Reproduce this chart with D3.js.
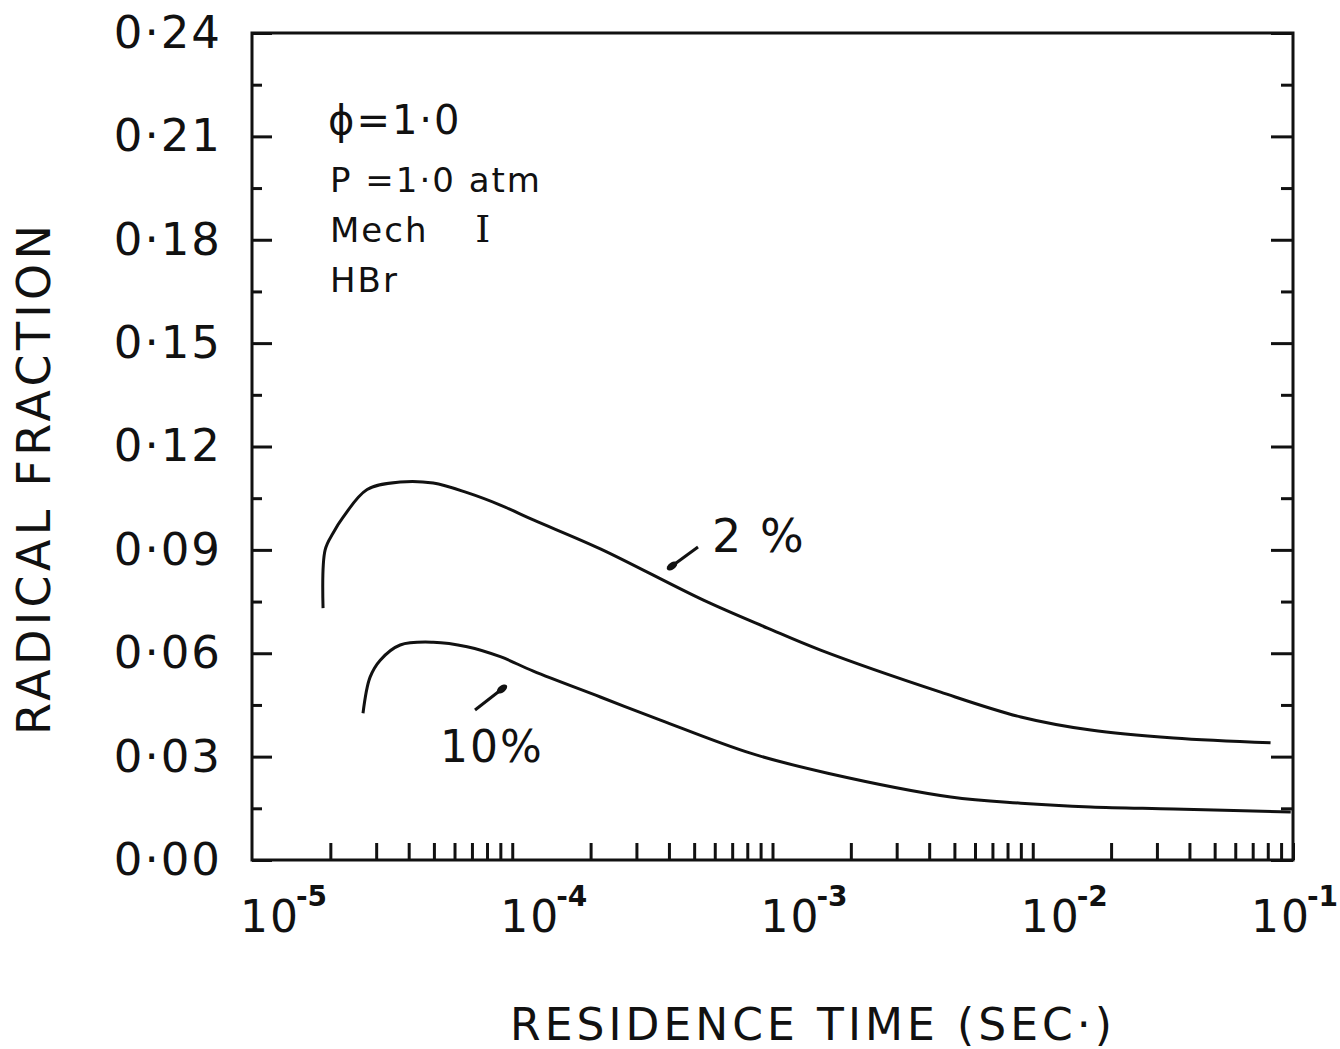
<!DOCTYPE html>
<html>
<head>
<meta charset="utf-8">
<script src="https://cdn.jsdelivr.net/npm/d3@7"></script>
<style>
  body { margin: 0; background: #fff; }
  svg { display: block; }
  text { font-family: "DejaVu Sans", sans-serif; fill: #111; }
</style>
</head>
<body>
<div id="chart"></div>
<script>
// residence time (s) and radical fraction
const time2 = [1.875e-5, 1.91e-5, 2.05e-5, 2.24e-5, 2.77e-5, 3.71e-5, 4.97e-5, 6.71e-5, 9.0e-5, 1.205e-4, 2.18e-4, 5.43e-4, 9.57e-4, 1.53e-3, 4.43e-3, 9.0e-3, 1.67e-2, 3.48e-2, 8.2e-2];
const frac2 = [0.0731, 0.090, 0.0949, 0.0995, 0.1075, 0.1097, 0.1094, 0.1066, 0.1030, 0.0987, 0.0903, 0.0754, 0.0673, 0.0609, 0.0487, 0.0415, 0.0377, 0.0354, 0.034];

const time10 = [2.67e-5, 2.84e-5, 3.11e-5, 3.71e-5, 4.97e-5, 6.71e-5, 9.0e-5, 1.205e-4, 2.18e-4, 3.71e-4, 8.23e-4, 1.63e-3, 4.84e-3, 9.0e-3, 1.67e-2, 3.48e-2, 9.8e-2];
const frac10 = [0.0426, 0.053, 0.058, 0.0624, 0.0632, 0.0619, 0.0590, 0.0548, 0.0473, 0.0406, 0.031, 0.0252, 0.0183, 0.0165, 0.0154, 0.0148, 0.0139];

const yMajor = [0, 0.03, 0.06, 0.09, 0.12, 0.15, 0.18, 0.21, 0.24];
const yMinor = [0.015, 0.045, 0.075, 0.105, 0.135, 0.165, 0.195, 0.225];
const xDecades = [-5, -4, -3, -2, -1];
const notes = ["P =1·0 atm", "Mech ", "HBr"];

const width = 1340, height = 1049;
const margin = { top: 33, right: 47, bottom: 189, left: 252 };

const svg = d3.select("#chart").append("svg")
  .attr("width", width)
  .attr("height", height);

const x = d3.scaleLog()
  .domain([1e-5, 1e-1])
  .range([margin.left, width - margin.right]);

const y = d3.scaleLinear()
  .domain([0, 0.24])
  .range([height - margin.bottom, margin.top]);

// minor ticks on x: 2..10 in every decade
const xTicks = [];
xDecades.slice(0, -1).forEach(e => {
  for (let k = 2; k <= 10; k++) xTicks.push(k * Math.pow(10, e));
});

// left axis
svg.append("g")
  .attr("transform", `translate(${margin.left},0)`)
  .call(d3.axisLeft(y).tickValues(yMajor).tickSize(-20).tickPadding(30)
    .tickFormat(d => d3.format(".2f")(d).replace(".", "·")))
  .call(g => g.select(".domain").remove())
  .call(g => g.selectAll("line").attr("stroke", "#111").attr("stroke-width", 3))
  .call(g => g.selectAll("text")
    .style("font-size", "45px")
    .attr("letter-spacing", 2)
    .attr("fill", "#111"));

svg.append("g")
  .attr("transform", `translate(${margin.left},0)`)
  .call(d3.axisLeft(y).tickValues(yMinor).tickSize(-10).tickFormat(""))
  .call(g => g.select(".domain").remove())
  .call(g => g.selectAll("line").attr("stroke", "#111").attr("stroke-width", 3));

// right axis
svg.append("g")
  .attr("transform", `translate(${width - margin.right},0)`)
  .call(d3.axisRight(y).tickValues(yMajor).tickSize(-22).tickFormat(""))
  .call(g => g.select(".domain").remove())
  .call(g => g.selectAll("line").attr("stroke", "#111").attr("stroke-width", 3));

svg.append("g")
  .attr("transform", `translate(${width - margin.right},0)`)
  .call(d3.axisRight(y).tickValues(yMinor).tickSize(-12).tickFormat(""))
  .call(g => g.select(".domain").remove())
  .call(g => g.selectAll("line").attr("stroke", "#111").attr("stroke-width", 3));

// bottom axis
svg.append("g")
  .attr("transform", `translate(0,${height - margin.bottom})`)
  .call(d3.axisBottom(x).tickValues(xTicks).tickSize(-17).tickFormat(""))
  .call(g => g.select(".domain").remove())
  .call(g => g.selectAll("line").attr("stroke", "#111").attr("stroke-width", 3));

// frame
svg.append("rect")
  .attr("x", margin.left)
  .attr("y", margin.top)
  .attr("width", width - margin.left - margin.right)
  .attr("height", height - margin.top - margin.bottom)
  .attr("fill", "none")
  .attr("stroke", "#111")
  .attr("stroke-width", 3);

// x tick labels 10^-n (last one pulled in so it stays on the page)
const xl = svg.append("g").selectAll("text")
  .data(xDecades)
  .join("text")
  .attr("x", d => d === -1 ? width - 2 : x(Math.pow(10, d)) - 12)
  .attr("text-anchor", d => d === -1 ? "end" : "start")
  .attr("y", 932)
  .style("font-size", "44px");
xl.append("tspan").text("10").attr("letter-spacing", 2);
xl.append("tspan")
  .attr("dy", -26)
  .attr("dx", -4)
  .style("font-size", "28px")
  .style("font-weight", "bold")
  .text(d => "-" + Math.abs(d));

// axis titles
svg.append("text")
  .attr("x", 510)
  .attr("y", 1040)
  .attr("textLength", 602)
  .attr("lengthAdjust", "spacing")
  .style("font-size", "44px")
  .text("RESIDENCE  TIME  (SEC·)");

svg.append("text")
  .attr("transform", "translate(50,735) rotate(-90)")
  .attr("textLength", 510)
  .attr("lengthAdjust", "spacing")
  .style("font-size", "46px")
  .text("RADICAL  FRACTION");

// curves
const line = d3.line()
  .x(d => x(d[0]))
  .y(d => y(d[1]))
  .curve(d3.curveCatmullRom.alpha(0.5));

const series = [
  d3.zip(time2, frac2),
  d3.zip(time10, frac10)
];

svg.append("g")
  .selectAll("path")
  .data(series)
  .join("path")
  .attr("d", line)
  .attr("fill", "none")
  .attr("stroke", "#111")
  .attr("stroke-width", 3);

// condition notes
svg.append("text")
  .attr("x", 328)
  .attr("y", 134)
  .style("font-size", "40px")
  .attr("letter-spacing", 2)
  .text("ϕ=1·0");

svg.append("g").selectAll("text")
  .data(notes)
  .join("text")
  .attr("x", 330)
  .attr("y", (d, i) => 192 + i * 50)
  .style("font-size", "34px")
  .attr("letter-spacing", 2)
  .text(d => d)
  .filter((d, i) => i === 1)
  .append("tspan")
  .attr("dx", 34)
  .style("font-family", "'DejaVu Serif', serif")
  .style("font-size", "38px")
  .text("I");

// curve labels with pointer arrows
svg.append("text")
  .attr("x", 712)
  .attr("y", 552)
  .style("font-size", "46px")
  .attr("letter-spacing", 2)
  .text("2 %");

svg.append("text")
  .attr("x", 440)
  .attr("y", 762)
  .style("font-size", "44px")
  .attr("letter-spacing", 2)
  .text("10%");

const arrows = [
  { x1: 698, y1: 547, x2: 672, y2: 566 },
  { x1: 475, y1: 710, x2: 502, y2: 689 }
];
const ag = svg.append("g").selectAll("g").data(arrows).join("g");
ag.append("line")
  .attr("x1", d => d.x1).attr("y1", d => d.y1)
  .attr("x2", d => d.x2).attr("y2", d => d.y2)
  .attr("stroke", "#111")
  .attr("stroke-width", 3);
ag.append("ellipse")
  .attr("transform", d => `translate(${d.x2},${d.y2}) rotate(${Math.atan2(d.y2 - d.y1, d.x2 - d.x1) * 180 / Math.PI})`)
  .attr("rx", 6)
  .attr("ry", 3.5)
  .attr("fill", "#111");
</script>
</body>
</html>
